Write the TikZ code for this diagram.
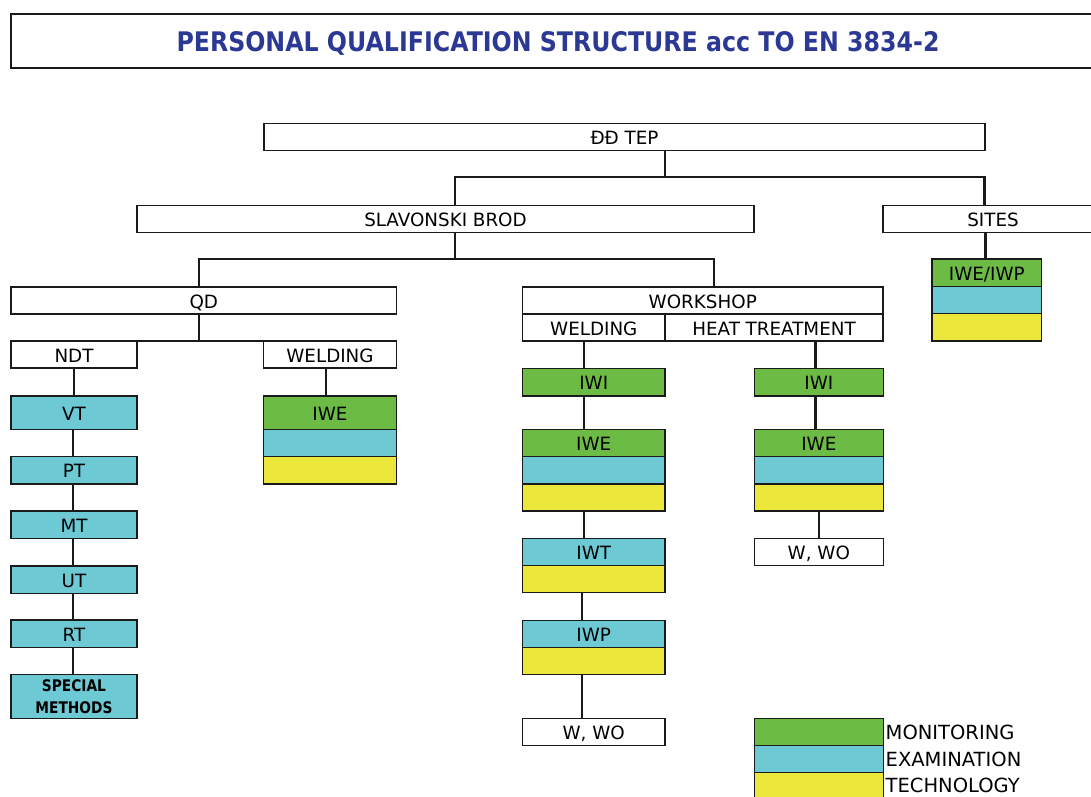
\documentclass[tikz,border=0pt]{standalone}
\usepackage{fontspec}
\setmainfont{DejaVu Sans}
\usepackage{graphicx}
\definecolor{mgreen}{HTML}{6CBB45}
\definecolor{ecyan}{HTML}{6DC9D4}
\definecolor{tyellow}{HTML}{EBE83B}
\definecolor{tblue}{HTML}{2B3994}
\definecolor{lineblk}{HTML}{1A1A1A}
\begin{document}
\begin{tikzpicture}[x=1pt,y=-1pt,
  base/.style={draw=lineblk, line width=1.5pt, inner sep=0pt, outer sep=0pt, text=black},
  box/.style={base, font=\fontsize{18.3}{20}\selectfont, text height=15pt, text depth=0pt},
  gbox/.style={box, fill=mgreen},
  cbox/.style={box, fill=ecyan},
  ybox/.style={box, fill=tyellow},
  wbox/.style={box, fill=white},
  conn/.style={line width=2.2pt, draw=lineblk},
  legtext/.style={anchor=west, inner sep=0pt, font=\fontsize{19.5}{21}\selectfont, text height=15pt, text depth=0pt}
]
\useasboundingbox (0,0) rectangle (1091,796);
\clip (0,0) rectangle (1091,796);

% title
\node[base, fill=white, minimum width=1094pt, minimum height=54pt, text=tblue, text height=21pt, text depth=0pt] (title) at (558,41)
  {\resizebox{763pt}{20pt}{\bfseries PERSONAL QUALIFICATION STRUCTURE acc TO EN 3834-2}};

% level 1-2
\node[wbox, minimum width=721pt, minimum height=27pt] (tep) at (624.5,136.8) {ĐĐ TEP};
\node[wbox, minimum width=617pt, minimum height=27pt] (sb) at (445.5,219) {SLAVONSKI BROD};
\node[wbox, minimum width=220pt, minimum height=27pt] (sites) at (993,219) {SITES};

% sites stack
\node[gbox, minimum width=109.5pt, minimum height=27.3pt] (siteg) at (986.75,272.65) {IWE/IWP};
\node[cbox, minimum width=109.5pt, minimum height=27.3pt] (sitec) at (986.75,299.95) {};
\node[ybox, minimum width=109.5pt, minimum height=27.3pt] (sitey) at (986.75,327.25) {};

% QD branch
\node[wbox, minimum width=385.5pt, minimum height=27pt] (qd) at (203.75,300.5) {QD};
\node[wbox, minimum width=126pt, minimum height=27pt] (ndt) at (74,354.5) {NDT};
\node[wbox, minimum width=133.4pt, minimum height=27pt] (qweld) at (330,354.5) {WELDING};

\node[cbox, minimum width=126pt, minimum height=33.3pt] (vt) at (74,412.65) {VT};
\node[cbox, minimum width=126pt, minimum height=27.3pt] (pt) at (74,470.35) {PT};
\node[cbox, minimum width=126pt, minimum height=27.3pt] (mt) at (74,524.65) {MT};
\node[cbox, minimum width=126pt, minimum height=27.3pt] (ut) at (74,579.65) {UT};
\node[cbox, minimum width=126pt, minimum height=27.3pt] (rt) at (74,633.65) {RT};
\node[base, fill=ecyan, minimum width=126pt, minimum height=43.6pt, align=center, font=\bfseries\fontsize{16}{22}\selectfont] (sm) at (74,696.5)
  {\scalebox{0.86}[1]{SPECIAL}\\\scalebox{0.86}[1]{METHODS}};

\node[gbox, minimum width=133.4pt, minimum height=33.3pt] (qiweg) at (330,412.65) {IWE};
\node[cbox, minimum width=133.4pt, minimum height=27.4pt] (qiwec) at (330,443) {};
\node[ybox, minimum width=133.4pt, minimum height=27.3pt] (qiwey) at (330,470.35) {};

% workshop branch
\node[wbox, minimum width=360.5pt, minimum height=27pt] (ws) at (702.75,300.5) {WORKSHOP};
\node[wbox, minimum width=142.5pt, minimum height=27pt] (wweld) at (593.75,327.5) {WELDING};
\node[wbox, minimum width=218pt, minimum height=27pt] (wht) at (774,327.5) {HEAT TREATMENT};

% welding column
\node[gbox, minimum width=142.5pt, minimum height=27.5pt] (liwi) at (593.75,382.25) {IWI};
\node[gbox, minimum width=142.5pt, minimum height=27.4pt] (liweg) at (593.75,443) {IWE};
\node[cbox, minimum width=142.5pt, minimum height=27.3pt] (liwec) at (593.75,470.35) {};
\node[ybox, minimum width=142.5pt, minimum height=27pt] (liwey) at (593.75,497.5) {};
\node[cbox, minimum width=142.5pt, minimum height=27.4pt] (liwtc) at (593.75,552) {IWT};
\node[ybox, minimum width=142.5pt, minimum height=27pt] (liwty) at (593.75,579.2) {};
\node[cbox, minimum width=142.5pt, minimum height=27pt] (liwpc) at (593.75,633.8) {IWP};
\node[ybox, minimum width=142.5pt, minimum height=27pt] (liwpy) at (593.75,660.8) {};
\node[wbox, minimum width=142.5pt, minimum height=27.4pt] (lwwo) at (593.75,732) {W, WO};

% heat treatment column
\node[gbox, minimum width=129pt, minimum height=27.5pt] (riwi) at (818.8,382.25) {IWI};
\node[gbox, minimum width=129pt, minimum height=27.4pt] (riweg) at (818.8,443) {IWE};
\node[cbox, minimum width=129pt, minimum height=27.3pt] (riwec) at (818.8,470.35) {};
\node[ybox, minimum width=129pt, minimum height=27pt] (riwey) at (818.8,497.5) {};
\node[wbox, minimum width=129pt, minimum height=27.4pt] (rwwo) at (818.8,552) {W, WO};

% legend
\node[gbox, minimum width=129pt, minimum height=27.4pt] (legg) at (818.8,732) {};
\node[cbox, minimum width=129pt, minimum height=27pt] (legc) at (818.8,759.2) {};
\node[ybox, minimum width=129pt, minimum height=27.3pt] (legy) at (818.8,786.35) {};
\node[legtext] (legmon) at (885.5,732) {MONITORING};
\node[legtext] (legexa) at (885.5,759.2) {EXAMINATION};
\node[legtext] (legtec) at (885.5,785) {TECHNOLOGY};

% connectors
\draw[conn] ([xshift=40.5pt]tep.south) -- ++(0,27);
\draw[conn] ([xshift=9.5pt]sb.north) -- ++(0,-28.3) -| ([xshift=-8.5pt]sites.north);
\draw[conn] ([xshift=9.5pt]sb.south) -- ++(0,27);
\draw[conn] ([xshift=-4.75pt]qd.north) -- ++(0,-28) -| ([xshift=11.25pt]ws.north);
\draw[conn] ([xshift=-4.75pt]qd.south) -- ++(0,27);
\draw[conn] (ndt.north east) -- (qweld.north west);
\draw[conn] ([xshift=-7.5pt]sites.south) -- ([xshift=-1.25pt]siteg.north);
\draw[conn] (ndt) -- (vt);
\draw[conn] ([xshift=-1.3pt]vt.south) -- ([xshift=-1.3pt]pt.north);
\draw[conn] ([xshift=-1.3pt]pt.south) -- ([xshift=-1.3pt]mt.north);
\draw[conn] ([xshift=-1.3pt]mt.south) -- ([xshift=-1.3pt]ut.north);
\draw[conn] ([xshift=-1.3pt]ut.south) -- ([xshift=-1.3pt]rt.north);
\draw[conn] ([xshift=-1.3pt]rt.south) -- ([xshift=-1.3pt]sm.north);
\draw[conn] ([xshift=-4pt]qweld.south) -- ([xshift=-4pt]qiweg.north);
\draw[conn] ([xshift=-9.75pt]wweld.south) -- ([xshift=-9.75pt]liwi.north);
\draw[conn] ([xshift=-9.75pt]liwi.south) -- ([xshift=-9.75pt]liweg.north);
\draw[conn] ([xshift=-9.75pt]liwey.south) -- ([xshift=-9.75pt]liwtc.north);
\draw[conn] ([xshift=-11.75pt]liwty.south) -- ([xshift=-11.75pt]liwpc.north);
\draw[conn] ([xshift=-11.75pt]liwpy.south) -- ([xshift=-11.75pt]lwwo.north);
\draw[conn] ([xshift=41.5pt]wht.south) -- ([xshift=-3.3pt]riwi.north);
\draw[conn] ([xshift=-3.3pt]riwi.south) -- ([xshift=-3.3pt]riweg.north);
\draw[conn] ([xshift=0.5pt]riwey.south) -- ([xshift=0.5pt]rwwo.north);
\end{tikzpicture}
\end{document}
